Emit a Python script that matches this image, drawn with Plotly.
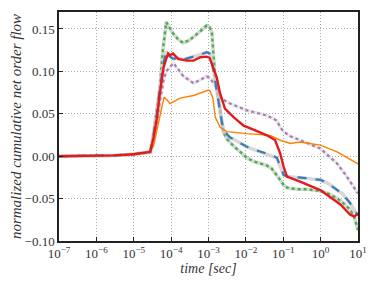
import plotly.graph_objects as go

# log10(time in sec) and normalized cumulative net order flow, per series
early_logt = [-7, -6, -5.5, -5, -4.7, -4.56]
early_val = [0.0, 0.0003, 0.001, 0.0023, 0.004, 0.005]

green_logt = [-4.47, -4.38, -4.30, -4.22, -4.13, -4.05, -3.95, -3.8, -3.67, -3.5,
              -3.35, -3.2, -3.05, -2.97, -2.91, -2.87, -2.83, -2.74, -2.65, -2.6,
              -2.5, -2.42, -2.33, -2.15, -1.97, -1.8, -1.6, -1.44, -1.3, -1.17,
              -1.08, -0.99, -0.9, -0.81, -0.6, -0.37, -0.2, 0, 0.2, 0.44,
              0.6, 0.79, 0.9, 1.0]
green_val = [0.027, 0.054, 0.081, 0.125, 0.158, 0.152, 0.145, 0.137, 0.1335, 0.137,
             0.142, 0.148, 0.154, 0.152, 0.146, 0.124, 0.097, 0.07, 0.042, 0.028,
             0.02, 0.016, 0.012, 0.005, -0.002, -0.006, -0.009, -0.011, -0.015, -0.022,
             -0.028, -0.034, -0.037, -0.038, -0.039, -0.039, -0.040, -0.041, -0.044, -0.0497,
             -0.055, -0.063, -0.072, -0.087]

blue_logt = [-4.47, -4.38, -4.30, -4.2, -4.13, -4.05, -3.95, -3.8, -3.67, -3.5,
             -3.35, -3.2, -3.05, -2.97, -2.9, -2.83, -2.74, -2.65, -2.6, -2.5,
             -2.42, -2.33, -2.15, -1.97, -1.8, -1.6, -1.44, -1.3, -1.17, -1.08,
             -0.99, -0.9, -0.81, -0.6, -0.37, -0.2, 0, 0.2, 0.44, 0.6,
             0.79, 0.97, 1.0]
blue_val = [0.025, 0.05, 0.08, 0.11, 0.124, 0.118, 0.115, 0.115, 0.114, 0.116,
            0.118, 0.12, 0.1225, 0.121, 0.11, 0.09, 0.065, 0.042, 0.03, 0.025,
            0.022, 0.02, 0.015, 0.011, 0.008, 0.005, 0.003, 0.001, -0.002, -0.0125,
            -0.022, -0.024, -0.0245, -0.025, -0.026, -0.027, -0.028, -0.032, -0.040, -0.045,
            -0.0555, -0.067, -0.07]

red_logt = [-4.47, -4.38, -4.30, -4.2, -4.13, -4.08, -4.03, -3.95, -3.81, -3.67,
            -3.58, -3.40, -3.22, -3.05, -2.97, -2.88, -2.78, -2.69, -2.56, -2.33,
            -2.06, -1.75, -1.44, -1.22, -1.08, -0.99, -0.90, -0.55, -0.01, 0.53,
            0.79, 0.9, 0.97, 1.0]
red_val = [0.022, 0.045, 0.075, 0.105, 0.115, 0.121, 0.119, 0.121, 0.1147, 0.113,
           0.1127, 0.1127, 0.1166, 0.1174, 0.116, 0.105, 0.093, 0.074, 0.056, 0.046,
           0.036, 0.0305, 0.0246, 0.019, 0.003, -0.0125, -0.024, -0.030, -0.040, -0.057,
           -0.069, -0.071, -0.069, -0.068]

purple_logt = [-4.47, -4.38, -4.30, -4.2, -4.13, -4.05, -3.94, -3.8, -3.67, -3.49,
               -3.40, -3.22, -3.05, -2.96, -2.78, -2.65, -2.42, -1.97, -1.44, -1.17,
               -1.08, -0.99, -0.81, -0.55, -0.01, 0.44, 0.70, 0.97, 1.0]
purple_val = [0.02, 0.04, 0.065, 0.09, 0.10, 0.104, 0.1096, 0.102, 0.094, 0.089,
              0.086, 0.09, 0.094, 0.092, 0.081, 0.0677, 0.062, 0.054, 0.048, 0.042,
              0.034, 0.029, 0.0235, 0.019, 0.009, -0.0086, -0.024, -0.042, -0.044]

orange_logt = [-4.47, -4.38, -4.30, -4.19, -4.1, -4.03, -3.76, -3.40, -3.0, -2.96,
               -2.88, -2.82, -2.69, -2.51, -1.97, -1.35, -1.08, -0.81, -0.55, -0.01,
               0.44, 1.0]
orange_val = [0.012, 0.03, 0.05, 0.0696, 0.066, 0.062, 0.0685, 0.0716, 0.078, 0.077,
              0.068, 0.046, 0.034, 0.029, 0.0266, 0.0246, 0.0188, 0.015, 0.0168, 0.013,
              0.005, -0.009]

x_tick_exps = [-7, -6, -5, -4, -3, -2, -1, 0, 1]
y_ticks = [-0.10, -0.05, 0.00, 0.05, 0.10, 0.15]


def series(logt, val):
    lt = early_logt + logt
    return [10 ** e for e in lt], early_val + val


fig = go.Figure()


def add(logt, val, color, width, dash="solid", halo=None, opacity=1.0):
    x, y = series(logt, val)
    if halo:
        fig.add_trace(go.Scatter(x=x, y=y, mode="lines",
                                 line=dict(color=halo, width=width + 1.2),
                                 opacity=0.7, hoverinfo="skip"))
    fig.add_trace(go.Scatter(x=x, y=y, mode="lines", opacity=opacity,
                             line=dict(color=color, width=width, dash=dash)))


add(green_logt, green_val, "#4daf4a", 2.4, "dot", halo="#c8c8c8")
add(purple_logt, purple_val, "#a87bb4", 2.2, "dot", halo="#e0e0e0")
add(blue_logt, blue_val, "#377eb8", 2.2, "dash", halo="#c8c8c8")
add(orange_logt, orange_val, "#ff7f00", 1.4)
add(red_logt, red_val, "#e41a1c", 2.4)

font_family = "Liberation Serif, DejaVu Serif, serif"
grid_style = dict(showgrid=True, gridcolor="#aaaaaa", griddash="1px,2px", gridwidth=1,
                  showline=True, linecolor="#222222", linewidth=1.5, mirror=True,
                  ticks="inside", ticklen=4, tickcolor="#222222", zeroline=False)
fig.update_layout(
    width=366, height=274,
    margin=dict(l=51, r=16, t=4, b=41, autoexpand=False),
    paper_bgcolor="white", plot_bgcolor="white",
    showlegend=False,
    font=dict(family=font_family, size=13, color="#333333"),
)
fig.update_xaxes(
    type="log", range=[-7, 1], automargin=False,
    tickvals=[10 ** e for e in x_tick_exps],
    ticktext=["10<sup>−%d</sup>" % -e if e < 0 else "10<sup>%d</sup>" % e for e in x_tick_exps],
    title=dict(text="<i>time [sec]</i>", font=dict(family=font_family, size=14), standoff=2),
    **grid_style,
)
fig.update_yaxes(
    range=[-0.10, 0.17], automargin=False,
    tickvals=y_ticks, tickformat=".2f",
    title=dict(text="<i>normalized cumulative net order flow</i>",
               font=dict(family=font_family, size=15), standoff=4),
    **grid_style,
)

fig.write_html("out.html")
